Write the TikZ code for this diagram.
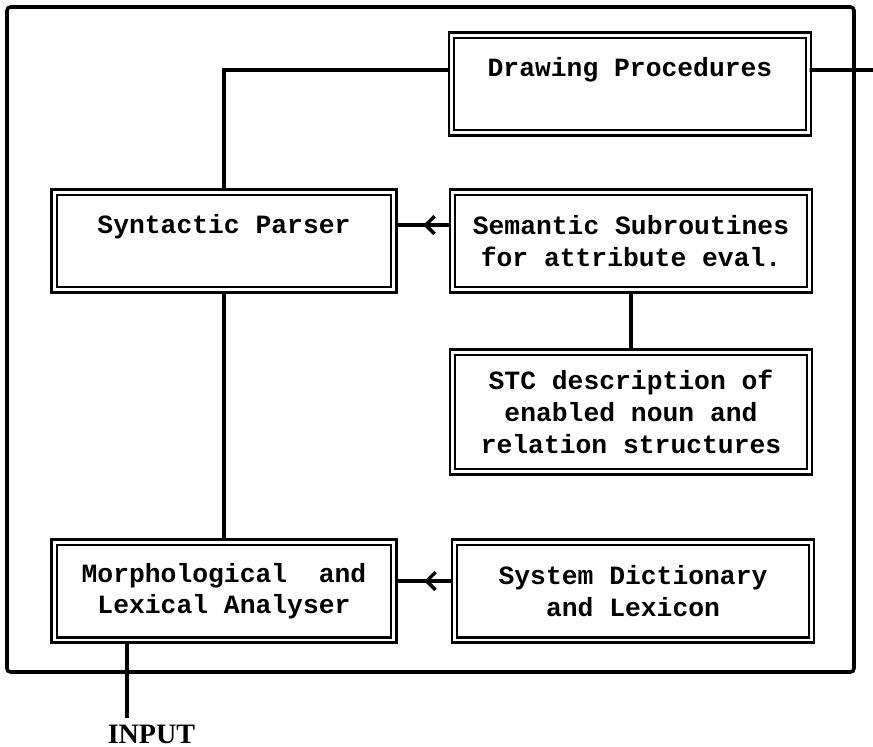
\documentclass[tikz,border=0pt]{standalone}
\usepackage{fontspec}
\setmainfont{Liberation Mono}
\newfontfamily\inputfont{Liberation Serif}
\usetikzlibrary{arrows.meta,decorations.markings}

\begin{document}
\begin{tikzpicture}[x=0.02cm, y=-0.02cm, line width=2pt,
	every node/.style={font=\bfseries\fontsize{15}{18}\selectfont, align=center},
	module/.style={draw, double, line width=1.3pt, double distance=1.7pt, minimum height=1.96cm, inner sep=0pt},
	leftmod/.style={module, minimum width=6.8cm},
	rightmod/.style={module, minimum width=7.14cm},
	midarrow/.style={postaction={decorate}, decoration={markings, mark=at position 0.5 with {\arrow{Straight Barb[length=5pt,width=10pt]}}}}]
			\useasboundingbox (0,0) rectangle (873,747);
			\draw[rounded corners=2pt] (7,7) rectangle (854,672);
			\node[rightmod] (drw) at (630,84) {Drawing Procedures\\[-4pt]\strut};
			\node[leftmod] (syn) at (224,241) {Syntactic Parser\\[-4pt]\strut};
			\node[rightmod] (sem) at (631,241) {Semantic Subroutines\\for attribute eval.};
			\node[rightmod, minimum height=2.4cm] (stc) at (631,412) {STC description of\\enabled noun and\\relation structures};
			\node[leftmod] (mla) at (224,591) {Morphological\ \ and\\Lexical Analyser};
			\node[rightmod] (sdl) at (633,591) {System Dictionary\\and Lexicon};
			\coordinate (out) at (873,70);
			\coordinate (inp) at (127,718);
			\node[anchor=base west, inner sep=0pt, font=\inputfont\bfseries\fontsize{16}{18}\selectfont] (input) at (106,743) {INPUT};
			\draw (syn.north) |- ([yshift=0.28cm]drw.west);
			\draw ([yshift=0.28cm]drw.east) -- (out);
			\draw[midarrow] ([yshift=0.32cm]sem.west) -- ([yshift=0.32cm]syn.east);
			\draw (syn.south) -- (mla.north);
			\draw (sem.south) -- (stc.north);
			\draw[midarrow] ([yshift=0.2cm]sdl.west) -- ([yshift=0.2cm]mla.east);
			\draw (mla.south -| inp) -- (inp);
		\end{tikzpicture}
\end{document}
